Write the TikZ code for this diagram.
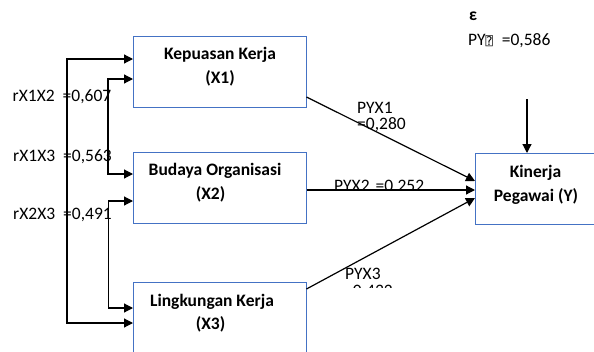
\documentclass[tikz,border=0pt]{standalone}
\usepackage{fontspec}
\setmainfont{Carlito}
\newfontfamily\symfont{DejaVu Sans Mono}
\usetikzlibrary{arrows.meta}
\definecolor{boxblue}{RGB}{68,114,196}
\tikzset{
  box/.style={draw=boxblue, line width=1pt, inner sep=0pt, anchor=north west,
              minimum width=173pt, minimum height=71pt},
  lbl/.style={inner sep=0pt, anchor=base west, font=\fontsize{17.5}{17.5}\selectfont},
  blbl/.style={inner sep=0pt, anchor=base, font=\fontsize{17.5}{17.5}\selectfont\bfseries},
  conn/.style={line width=1.2pt, black},
  arr/.style={conn, -{Triangle[length=9pt,width=9pt]}},
  darr/.style={conn, {Triangle[length=9pt,width=9pt]}-{Triangle[length=9pt,width=9pt]}}
}
\begin{document}
\begin{tikzpicture}[x=1pt, y=-1pt]
\useasboundingbox (0,0) rectangle (594,351);
\clip (0,0) rectangle (594,351);
% boxes
\node[box] (x1) at (133,36) {};
\node[box] (x2) at (133,152) {};
\node[box] (x3) at (133,282) {};
\node[box, minimum width=123pt] (y) at (475,153) {};
% box texts
\node[blbl] (t1a) at (220,59.5) {Kepuasan Kerja};
\node[blbl] (t1b) at (220,83.5) {(X1)};
\node[blbl] (t2a) at (215,175) {Budaya Organisasi};
\node[blbl] (t2b) at (210.5,199.5) {(X2)};
\node[blbl] (t3a) at (212,306.5) {Lingkungan Kerja};
\node[blbl] (t3b) at (210.5,329.5) {(X3)};
\node[blbl] (tya) at (535.5,177.5) {Kinerja};
\node[blbl] (tyb) at (536,201.5) {Pegawai (Y)};
% correlation labels
\node[lbl] (r12) at (12.5,101.5) {rX1X2\hspace{8pt}=0,607};
\node[lbl] (r13) at (13,161.5) {rX1X3\hspace{8pt}=0,563};
\node[lbl] (r23) at (13,219) {rX2X3\hspace{8pt}=0,491};
% epsilon
\node[lbl, font=\fontsize{17.5}{17.5}\selectfont\bfseries] (eps) at (469,20.7) {ε};
\node[lbl] (pye) at (468,45) {PY{\symfont\fontsize{12}{12}\selectfont ⍰}\hspace{9pt}=0,586};
% path labels
\node[lbl] (p1a) at (357,113) {PYX1};
\node[lbl] (p1b) at (357,129.5) {=0,280};
\begin{scope}
  \clip (300,170) rectangle (470,190);
  \node[lbl] (p2) at (334,191.5) {PYX2\hspace{6pt}=0,252};
\end{scope}
\begin{scope}
  \clip (330,255) rectangle (420,287.5);
  \node[lbl] (p3a) at (345,279.5) {PYX3};
  \node[lbl] (p3b) at (344,296) {=0,432};
\end{scope}
% correlation brackets
\coordinate (o1) at (67,59);
\coordinate (o2) at (67,323);
\coordinate (m1) at (108,79);
\coordinate (m2) at (108,174);
\coordinate (n1) at (108.5,201);
\coordinate (n2) at (108.5,308);
\draw[darr] (o1 -| x1.west) -- (o1) -- (o2) -- (o2 -| x3.west);
\draw[darr] (m1 -| x1.west) -- (m1) -- (m2) -- (m2 -| x2.west);
\draw[darr] (n1 -| x2.west) -- (n1) -- (n2) -- (n2 -| x3.west);
% paths to Y
\coordinate (s1) at (306.5,97);
\coordinate (e1) at (475,181);
\coordinate (s2) at (306.5,190);
\coordinate (s3) at (306.5,289);
\coordinate (e3) at (475,198);
\draw[arr] (s1) -- (e1 -| y.west);
\draw[arr] (s2) -- (s2 -| y.west);
\draw[arr] (s3) -- (e3 -| y.west);
% epsilon arrow
\coordinate (ep) at (527,99);
\draw[arr] (ep) -- (ep |- y.north);
\end{tikzpicture}
\end{document}
